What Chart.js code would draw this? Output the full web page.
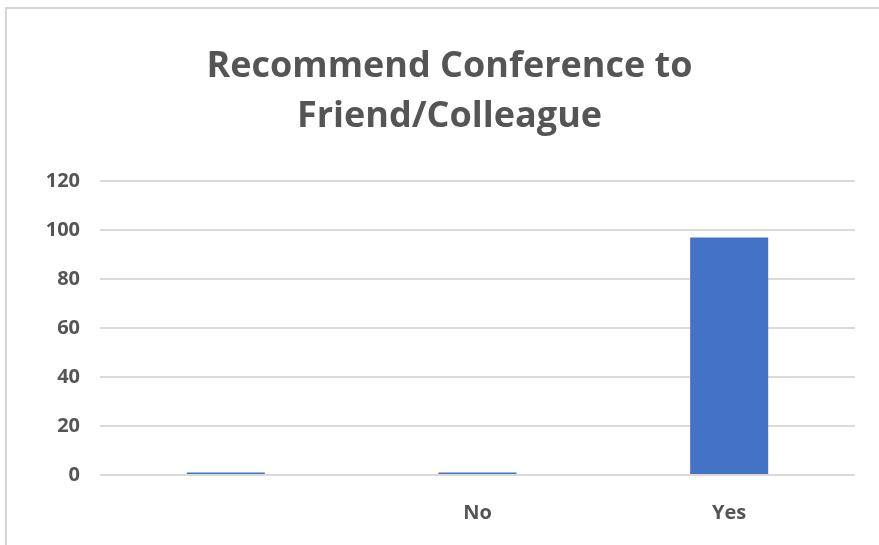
<!DOCTYPE html>
<html>
<head>
<meta charset="utf-8">
<script src="https://cdn.jsdelivr.net/npm/chart.js@4"></script>
<style>
  html, body { margin: 0; padding: 0; background: #fff; }
  #wrap { width: 879px; height: 545px; position: relative; }
</style>
</head>
<body>
<div id="wrap"><canvas id="chart" width="879" height="545"></canvas></div>
<script>
const categories = ['', 'No', 'Yes'];
const responses = [1, 1, 97];
const yTicks = [0, 20, 40, 60, 80, 100, 120];

const textGray = '#555555';
const fontFamily = '"Open Sans", "Noto Sans", sans-serif';

// light frame along the top and left edge, like the cropped screenshot
const framePlugin = {
    id: 'frame',
    afterLayout(chart) {
        // the original title sits a little right of the canvas centre
        if (chart.titleBlock) chart.titleBlock.left += 24;
    },
    beforeDraw(chart) {
        const ctx = chart.ctx;
        ctx.save();
        ctx.strokeStyle = '#d6d6d6';
        ctx.lineWidth = 2;
        ctx.beginPath();
        ctx.moveTo(6, chart.height);
        ctx.lineTo(6, 8);
        ctx.lineTo(chart.width, 8);
        ctx.stroke();
        ctx.restore();
    }
};

new Chart(document.getElementById('chart'), {
    type: 'bar',
    data: {
        labels: categories,
        datasets: [{
            label: 'Responses',
            data: responses,
            backgroundColor: '#4472c4',
            borderWidth: 0,
            categoryPercentage: 1,
            barPercentage: 0.31
        }]
    },
    options: {
        responsive: false,
        animation: false,
        layout: {
            padding: { left: 20, right: 24, top: 14, bottom: 2 }
        },
        scales: {
            x: {
                grid: { display: false },
                border: { display: false },
                ticks: {
                    color: textGray,
                    font: { family: fontFamily, size: 20, weight: 'bold' },
                    padding: 18
                }
            },
            y: {
                min: 0,
                max: 120,
                afterBuildTicks(axis) {
                    axis.ticks = yTicks.map(v => ({ value: v }));
                },
                afterFit(axis) {
                    axis.width = 80;
                },
                grid: { color: '#d9d9d9', lineWidth: 2, drawTicks: false },
                border: { display: false },
                ticks: {
                    color: textGray,
                    font: { family: fontFamily, size: 20, weight: 'bold' },
                    padding: 20
                }
            }
        },
        plugins: {
            legend: { display: false },
            tooltip: { enabled: false },
            title: {
                display: true,
                text: ['Recommend Conference to', 'Friend/Colleague'],
                color: textGray,
                font: { family: fontFamily, size: 36, weight: 'bold', lineHeight: 1.39 },
                padding: { top: 28, bottom: 39 }
            }
        }
    },
    plugins: [framePlugin]
});
</script>
</body>
</html>
